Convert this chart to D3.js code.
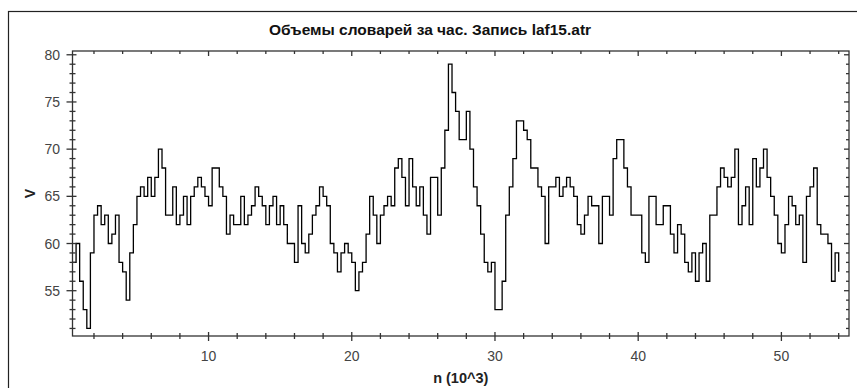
<!DOCTYPE html>
<html><head><meta charset="utf-8">
<script src="https://cdn.jsdelivr.net/npm/d3@7/dist/d3.min.js"></script>
<style>body{margin:0;background:#fff;overflow:hidden}</style></head>
<body><svg id="c" width="857" height="388"></svg>
<script>
const title = "Объемы словарей за час. Запись laf15.atr";
const xLabel = "n (10^3)";
const yLabel = "V";
const nStart = 0.5;   // first sample, 10^3
const nStep = 0.25;   // sample spacing, 10^3
const volumes = [
58,60,56,53,51,59,63,64,62,63,60,61,63,58,57,54,59,62,65,66,
65,67,65,67,70,68,63,63,66,62,63,65,62,65,66,67,66,65,64,68,
68,66,65,61,63,62,62,65,62,63,64,66,65,64,62,64,65,62,64,62,
60,60,58,64,60,59,61,63,64,66,65,64,60,59,57,59,60,59,58,55,
57,58,61,65,63,60,63,64,65,64,68,69,67,64,69,66,64,66,63,61,
67,67,63,68,72,79,76,74,71,71,74,70,66,64,61,58,57,58,53,53,
56,63,66,69,73,73,72,71,68,68,66,65,60,66,66,67,65,66,67,66,
65,62,61,63,65,64,64,60,65,65,63,69,71,71,68,66,63,63,63,59,
58,65,65,62,62,64,64,61,59,62,61,58,57,59,56,59,60,56,63,63,
66,68,67,66,67,70,62,64,66,62,69,66,68,70,67,65,63,60,59,62,
65,64,62,63,58,65,66,68,62,61,61,60,56,59,57
];
const xDomain = [0.5, 54.72];
const yDomain = [50.2, 80.4];
const xMajorTicks = [10, 20, 30, 40, 50];
const yMajorTicks = [55, 60, 65, 70, 75, 80];

const svg = d3.select("#c");
const L = 72.5, R = 849, T = 51, B = 336;
const x = d3.scaleLinear().domain(xDomain).range([L, R]);
const y = d3.scaleLinear().domain(yDomain).range([B, T]);

// outer frame
svg.append("rect").attr("x", 8.5).attr("y", 11.5).attr("width", 900).attr("height", 420)
  .attr("fill", "none").attr("stroke", "#222").attr("stroke-width", 1.2);

svg.append("text").attr("x", 430).attr("y", 34.5).attr("text-anchor", "middle")
  .attr("font-family", "Liberation Sans, Arial, sans-serif").attr("font-size", 15.5)
  .attr("font-weight", "bold").attr("fill", "#111").text(title);

const data = volumes.map((v, i) => [nStart + i * nStep, v]);
const line = d3.line().x(d => x(d[0])).y(d => y(d[1])).curve(d3.curveStepAfter);
svg.append("path").datum(data).attr("d", line).attr("fill", "none")
  .attr("stroke", "#000").attr("stroke-width", 1.3).attr("stroke-linejoin", "miter");

const axisColor = "#333";
const g = svg.append("g").attr("stroke", axisColor).attr("stroke-width", 1.3);
// box
g.append("rect").attr("x", L).attr("y", T).attr("width", R - L).attr("height", B - T).attr("fill", "none");

const xMinor = d3.range(2, 55, 2);
const yMinor = d3.range(51, 81, 1);
const isXMaj = v => v % 10 === 0;
const isYMaj = v => v % 5 === 0;

// bottom ticks (crossing)
g.selectAll(".bt").data(xMinor).join("line")
  .attr("x1", d => x(d)).attr("x2", d => x(d))
  .attr("y1", d => B - (isXMaj(d) ? 4 : 3)).attr("y2", d => B + (isXMaj(d) ? 5 : 3));
// top ticks (inward)
g.selectAll(".tt").data(xMinor).join("line")
  .attr("x1", d => x(d)).attr("x2", d => x(d))
  .attr("y1", T).attr("y2", d => T + (isXMaj(d) ? 5 : 3));
// left ticks (crossing)
g.selectAll(".lt").data(yMinor).join("line")
  .attr("y1", d => y(d)).attr("y2", d => y(d))
  .attr("x1", d => L - (isYMaj(d) ? 6 : 3)).attr("x2", d => L + (isYMaj(d) ? 4 : 3));
// right ticks (inward)
g.selectAll(".rt").data(yMinor).join("line")
  .attr("y1", d => y(d)).attr("y2", d => y(d))
  .attr("x1", d => R - (isYMaj(d) ? 5 : 3)).attr("x2", R);

const lab = svg.append("g").attr("font-family", "Liberation Sans, Arial, sans-serif")
  .attr("font-size", 14).attr("fill", "#444");
lab.selectAll(".xl").data(xMajorTicks).join("text")
  .attr("x", d => x(d)).attr("y", 361).attr("text-anchor", "middle").text(d => d);
lab.selectAll(".yl").data(yMajorTicks).join("text")
  .attr("x", 60).attr("y", d => y(d) + 5).attr("text-anchor", "end").text(d => d);

svg.append("text").attr("x", (L + R) / 2).attr("y", 383).attr("text-anchor", "middle")
  .attr("font-family", "Liberation Sans, Arial, sans-serif").attr("font-size", 14.5)
  .attr("font-weight", "bold").attr("fill", "#222").text(xLabel);
svg.append("text").attr("transform", `translate(35,${(T + B) / 2}) rotate(-90)`)
  .attr("text-anchor", "middle")
  .attr("font-family", "Liberation Sans, Arial, sans-serif").attr("font-size", 14)
  .attr("font-weight", "bold").attr("fill", "#222").text(yLabel);
</script>
</body></html>
